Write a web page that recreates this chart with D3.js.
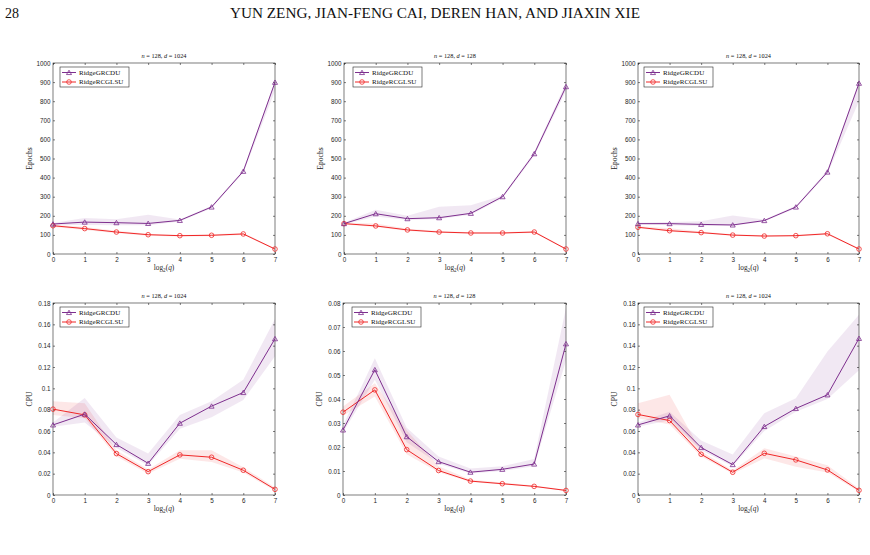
<!DOCTYPE html>
<html><head><meta charset="utf-8">
<script src="https://cdn.jsdelivr.net/npm/d3@7"></script>
<style>body{margin:0;background:#fff}svg{display:block}</style>
</head><body>
<svg id="c" width="870" height="555"></svg>
<script>
// ---------- data ----------
const xq = [0,1,2,3,4,5,6,7];
const seriesNames = ["RidgeGRCDU","RidgeRCGLSU"];
const epochTicks = [0,100,200,300,400,500,600,700,800,900,1000];
const cpuTicksWide = [0,0.02,0.04,0.06,0.08,0.1,0.12,0.14,0.16,0.18];
const cpuTicksNarrow = [0,0.01,0.02,0.03,0.04,0.05,0.06,0.07,0.08];
const xTicks = [0,1,2,3,4,5,6,7];

// Epochs, n=128, d=1024 (left)
const ep1_g    = [157,167,164,160,176,246,433,899];
const ep1_g_lo = [152,152,150,150,170,240,425,855];
const ep1_g_hi = [162,188,182,206,181,252,441,905];
const ep1_r    = [148,133,115,101,96,98,105,26];
const ep1_r_lo = [142,126,109,96,92,93,100,22];
const ep1_r_hi = [154,141,122,106,100,103,110,30];
// Epochs, n=128, d=128
const ep2_g    = [159,211,185,190,213,300,525,876];
const ep2_g_lo = [155,196,178,183,205,292,515,855];
const ep2_g_hi = [163,232,200,248,255,306,535,895];
const ep2_r    = [159,147,126,115,110,110,115,26];
const ep2_r_lo = [154,142,121,111,106,106,110,22];
const ep2_r_hi = [164,160,132,120,114,114,120,30];
// Epochs, n=128, d=1024 (right)
const ep3_g    = [159,159,155,152,175,246,429,894];
const ep3_g_lo = [154,150,147,146,170,240,420,800];
const ep3_g_hi = [164,168,172,202,180,252,438,905];
const ep3_r    = [140,122,112,99,94,96,106,26];
const ep3_r_lo = [135,116,107,95,90,92,101,22];
const ep3_r_hi = [145,135,118,104,98,100,111,30];
// CPU, n=128, d=1024 (left)
const cpu1_g    = [0.0657,0.0758,0.0473,0.0297,0.0673,0.0833,0.0961,0.1465];
const cpu1_g_lo = [0.064,0.068,0.044,0.028,0.062,0.073,0.089,0.130];
const cpu1_g_hi = [0.068,0.091,0.054,0.039,0.075,0.088,0.108,0.165];
const cpu1_r    = [0.0805,0.0751,0.0388,0.0219,0.0376,0.0354,0.0232,0.0053];
const cpu1_r_lo = [0.075,0.072,0.036,0.020,0.034,0.031,0.021,0.004];
const cpu1_r_hi = [0.088,0.086,0.042,0.024,0.042,0.042,0.026,0.007];
// CPU, n=128, d=128
const cpu2_g    = [0.0271,0.0522,0.0243,0.0139,0.0095,0.0107,0.0129,0.0630];
const cpu2_g_lo = [0.026,0.048,0.022,0.013,0.009,0.010,0.012,0.056];
const cpu2_g_hi = [0.029,0.057,0.028,0.016,0.011,0.012,0.015,0.078];
const cpu2_r    = [0.0345,0.0438,0.0189,0.0102,0.0058,0.0047,0.0036,0.0019];
const cpu2_r_lo = [0.033,0.041,0.017,0.0095,0.0054,0.0044,0.0033,0.0017];
const cpu2_r_hi = [0.0369,0.0466,0.027,0.012,0.0064,0.0052,0.0040,0.0022];
// CPU, n=128, d=1024 (right)
const cpu3_g    = [0.0657,0.0742,0.0445,0.0285,0.0642,0.0811,0.0939,0.1468];
const cpu3_g_lo = [0.064,0.070,0.042,0.027,0.060,0.078,0.090,0.117];
const cpu3_g_hi = [0.068,0.078,0.051,0.038,0.0767,0.0908,0.1346,0.169];
const cpu3_r    = [0.0755,0.0698,0.0382,0.0213,0.0391,0.0329,0.0235,0.0044];
const cpu3_r_lo = [0.072,0.066,0.036,0.020,0.0344,0.0266,0.021,0.003];
const cpu3_r_hi = [0.086,0.094,0.041,0.023,0.0438,0.036,0.028,0.006];

const titles = [["128","1024"],["128","128"],["128","1024"],["128","1024"],["128","128"],["128","1024"]];

// ---------- layout ----------
const PURPLE = "#7e2f8e", RED = "#f02828", AX = "#262626";
const svg = d3.select("#c");

svg.append("text").attr("x",5).attr("y",18).attr("font-family","Liberation Serif")
  .attr("font-size",14).attr("fill","#111").text("28");
svg.append("text").attr("x",435).attr("y",18).attr("text-anchor","middle")
  .attr("font-family","Liberation Serif").attr("font-size",14).attr("fill","#111")
  .attr("textLength",410).attr("lengthAdjust","spacingAndGlyphs")
  .text("YUN ZENG, JIAN-FENG CAI, DEREN HAN, AND JIAXIN XIE");

const panels = [
  {L:53,R:275,T:63,B:254,ymax:1000,ticks:epochTicks,ylab:"Epochs",g:[ep1_g,ep1_g_lo,ep1_g_hi],r:[ep1_r,ep1_r_lo,ep1_r_hi],leg:7},
  {L:344,R:566,T:63,B:254,ymax:1000,ticks:epochTicks,ylab:"Epochs",g:[ep2_g,ep2_g_lo,ep2_g_hi],r:[ep2_r,ep2_r_lo,ep2_r_hi],leg:9},
  {L:638,R:859,T:63,B:254,ymax:1000,ticks:epochTicks,ylab:"Epochs",g:[ep3_g,ep3_g_lo,ep3_g_hi],r:[ep3_r,ep3_r_lo,ep3_r_hi],leg:6},
  {L:53,R:275,T:303,B:495,ymax:0.18,ticks:cpuTicksWide,ylab:"CPU",g:[cpu1_g,cpu1_g_lo,cpu1_g_hi],r:[cpu1_r,cpu1_r_lo,cpu1_r_hi],leg:7},
  {L:343,R:566,T:303,B:495,ymax:0.08,ticks:cpuTicksNarrow,ylab:"CPU",g:[cpu2_g,cpu2_g_lo,cpu2_g_hi],r:[cpu2_r,cpu2_r_lo,cpu2_r_hi],leg:9},
  {L:638,R:859,T:303,B:495,ymax:0.18,ticks:cpuTicksWide,ylab:"CPU",g:[cpu3_g,cpu3_g_lo,cpu3_g_hi],r:[cpu3_r,cpu3_r_lo,cpu3_r_hi],leg:6}
];

const tri = d3.symbol().type(d3.symbolTriangle).size(11);

panels.forEach((p,pi)=>{
  const x = d3.scaleLinear().domain([0,7]).range([p.L,p.R]);
  const y = d3.scaleLinear().domain([0,p.ymax]).range([p.B,p.T]);
  const g = svg.append("g");

  const area = (lo,hi)=>d3.area().x((d,i)=>x(xq[i])).y0((d,i)=>y(lo[i])).y1((d,i)=>y(hi[i]))(xq);
  const line = v=>d3.line().x((d,i)=>x(xq[i])).y((d,i)=>y(v[i]))(xq);

  g.append("path").attr("d",area(p.r[1],p.r[2])).attr("fill",RED).attr("fill-opacity",0.11);
  g.append("path").attr("d",area(p.g[1],p.g[2])).attr("fill",PURPLE).attr("fill-opacity",0.11);

  // box + ticks
  g.append("rect").attr("x",p.L).attr("y",p.T).attr("width",p.R-p.L).attr("height",p.B-p.T)
    .attr("fill","none").attr("stroke",AX).attr("stroke-width",0.6);
  const ya = g.append("g").attr("transform",`translate(${p.L},0)`)
    .call(d3.axisLeft(y).tickValues(p.ticks).tickSizeInner(-2).tickSizeOuter(0).tickPadding(2.5).tickFormat(d3.format("~g")));
  const yb = g.append("g").attr("transform",`translate(${p.R},0)`)
    .call(d3.axisRight(y).tickValues(p.ticks).tickSizeInner(-2).tickSizeOuter(0).tickFormat(""));
  const xa = g.append("g").attr("transform",`translate(0,${p.B})`)
    .call(d3.axisBottom(x).tickValues(xTicks).tickSizeInner(-2).tickSizeOuter(0).tickPadding(3.5).tickFormat(d3.format("d")));
  const xb = g.append("g").attr("transform",`translate(0,${p.T})`)
    .call(d3.axisTop(x).tickValues(xTicks).tickSizeInner(-2).tickSizeOuter(0).tickFormat(""));
  [ya,yb,xa,xb].forEach(a=>{
    a.select(".domain").remove();
    a.selectAll("line").attr("stroke",AX).attr("stroke-width",0.6);
    a.selectAll("text").attr("font-family","Liberation Sans").attr("font-size",6.3).attr("fill",AX);
  });
  xa.selectAll("text").attr("dy","0.71em").attr("y",3.5);

  // lines & markers
  g.append("path").attr("d",line(p.r[0])).attr("fill","none").attr("stroke",RED).attr("stroke-width",1);
  g.append("path").attr("d",line(p.g[0])).attr("fill","none").attr("stroke",PURPLE).attr("stroke-width",1);
  g.selectAll(null).data(xq).enter().append("circle")
    .attr("cx",(d,i)=>x(d)).attr("cy",(d,i)=>y(p.r[0][i])).attr("r",2.3)
    .attr("fill","none").attr("stroke",RED).attr("stroke-width",0.8);
  g.selectAll(null).data(xq).enter().append("path").attr("d",tri)
    .attr("transform",(d,i)=>`translate(${x(d)},${y(p.g[0][i])+0.6})`)
    .attr("fill","none").attr("stroke",PURPLE).attr("stroke-width",0.8);

  // title
  const t = g.append("text").attr("x",(p.L+p.R)/2).attr("y",p.T-5).attr("text-anchor","middle")
    .attr("font-family","Liberation Serif").attr("font-size",6.3).attr("fill","#111");
  t.append("tspan").attr("font-style","italic").text("n");
  t.append("tspan").text(" = "+titles[pi][0]+", ");
  t.append("tspan").attr("font-style","italic").text("d");
  t.append("tspan").text(" = "+titles[pi][1]);

  // x label
  const xl = g.append("text").attr("x",(p.L+p.R)/2).attr("y",p.B+16).attr("text-anchor","middle")
    .attr("font-family","Liberation Serif").attr("font-size",7.3).attr("fill",AX);
  xl.append("tspan").text("log");
  xl.append("tspan").attr("font-size",5.2).attr("dy",1.5).text("2");
  xl.append("tspan").attr("dy",-1.5).text("(");
  xl.append("tspan").attr("font-style","italic").text("q");
  xl.append("tspan").text(")");

  // y label
  g.append("text").attr("transform",`translate(${p.L-21.5},${(p.T+p.B)/2}) rotate(-90)`)
    .attr("text-anchor","middle").attr("font-family","Liberation Serif").attr("font-size",7.6).attr("fill",AX)
    .text(p.ylab);

  // legend
  const lx = p.L+p.leg, ly = p.T+4;
  const lg = g.append("g");
  lg.append("rect").attr("x",lx).attr("y",ly).attr("width",69).attr("height",20)
    .attr("fill","#fff").attr("stroke",AX).attr("stroke-width",0.6);
  [[PURPLE,"tri"],[RED,"circ"]].forEach((s,k)=>{
    const yy = ly+5.5+k*9.5;
    lg.append("line").attr("x1",lx+2).attr("x2",lx+16).attr("y1",yy).attr("y2",yy)
      .attr("stroke",s[0]).attr("stroke-width",1);
    if(s[1]==="tri") lg.append("path").attr("d",tri).attr("transform",`translate(${lx+9},${yy+0.6})`)
      .attr("fill","none").attr("stroke",s[0]).attr("stroke-width",0.8);
    else lg.append("circle").attr("cx",lx+9).attr("cy",yy).attr("r",2.3)
      .attr("fill","none").attr("stroke",s[0]).attr("stroke-width",0.8);
    lg.append("text").attr("x",lx+19).attr("y",yy+2.3).attr("font-family","Liberation Serif")
      .attr("font-size",7).attr("fill","#111").text(seriesNames[k]);
  });
});
</script>
</body></html>
